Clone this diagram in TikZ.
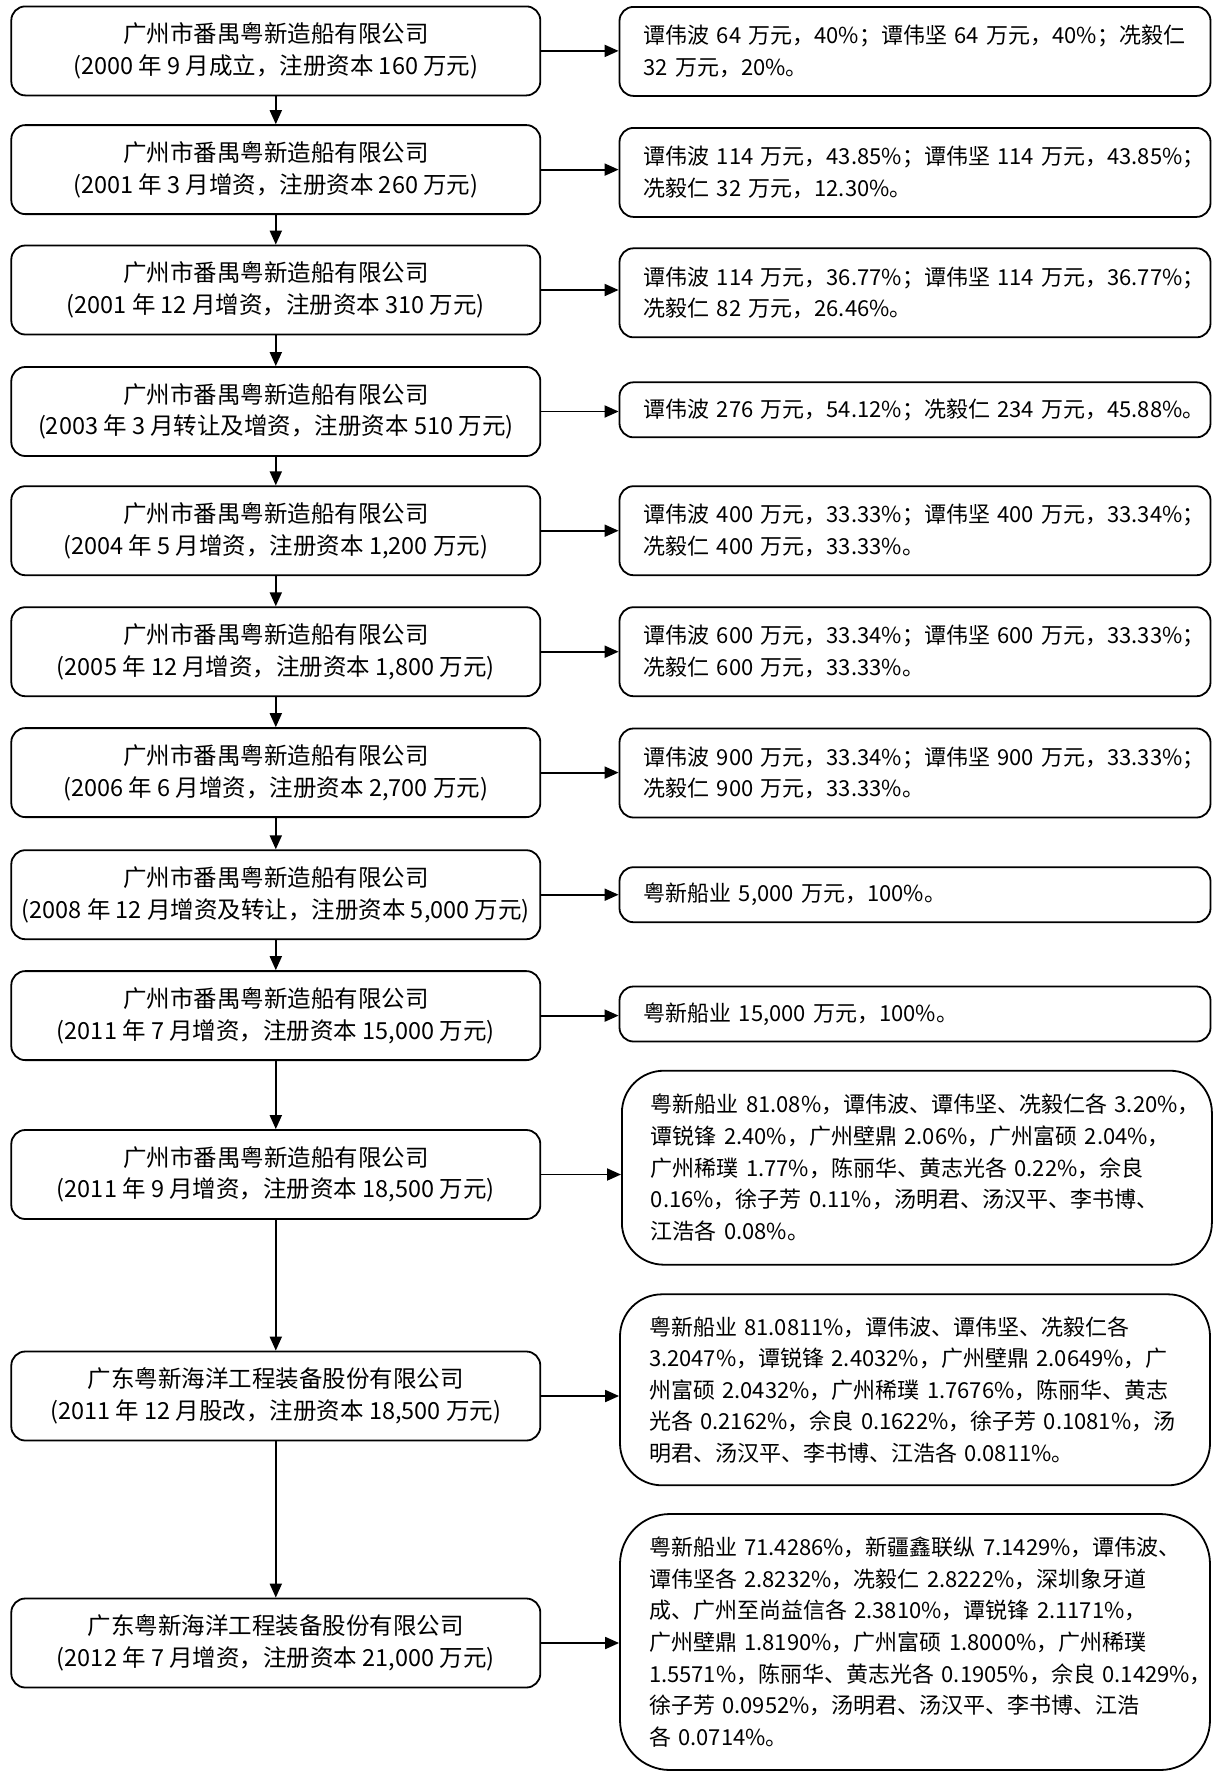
\documentclass[tikz,border=0pt]{standalone}
\usepackage{fontspec}
\setmainfont{Noto Sans CJK SC}
\usetikzlibrary{arrows.meta}
\newcommand{\Ln}[1]{\mbox{#1}}
\tikzset{
  txt/.style={font=\fontsize{22}{31.6}\selectfont},
  ltxt/.style={font=\fontsize{23.5}{31.6}\selectfont},
  lbox/.style={ltxt, draw, line width=1.8pt, rounded corners=14pt, minimum width=529pt, minimum height=89pt, inner sep=0pt, align=center},
  rbox/.style={txt, draw, line width=1.8pt, rounded corners=14pt, text width=543pt, inner xsep=24pt, inner ysep=0pt, minimum height=89pt, align=left},
  rbig/.style={rbox, rounded corners=42pt, text width=532pt, inner xsep=29pt},
  arr/.style={line width=1.9pt, -{Triangle[length=14pt,width=12pt]}}
}
\begin{document}
\begin{tikzpicture}[x=1pt,y=1pt]
\useasboundingbox (0,0) rectangle (1214,-1773);
% left chain
\node[lbox] (L1) at (275.8,-50.9) {广州市番禺粤新造船有限公司\\(2000 年 9 月成立，注册资本 160 万元)};
\node[lbox] (L2) at (275.8,-169.6) {广州市番禺粤新造船有限公司\\(2001 年 3 月增资，注册资本 260 万元)};
\node[lbox] (L3) at (275.8,-290) {广州市番禺粤新造船有限公司\\(2001 年 12 月增资，注册资本 310 万元)};
\node[lbox] (L4) at (275.8,-411.5) {广州市番禺粤新造船有限公司\\(2003 年 3 月转让及增资，注册资本 510 万元)};
\node[lbox] (L5) at (275.8,-530.7) {广州市番禺粤新造船有限公司\\(2004 年 5 月增资，注册资本 1,200 万元)};
\node[lbox] (L6) at (275.8,-651.7) {广州市番禺粤新造船有限公司\\(2005 年 12 月增资，注册资本 1,800 万元)};
\node[lbox] (L7) at (275.8,-772.6) {广州市番禺粤新造船有限公司\\(2006 年 6 月增资，注册资本 2,700 万元)};
\node[lbox] (L8) at (275.8,-894.7) {广州市番禺粤新造船有限公司\\(2008 年 12 月增资及转让，注册资本 5,000 万元)};
\node[lbox] (L9) at (275.8,-1015.6) {广州市番禺粤新造船有限公司\\(2011 年 7 月增资，注册资本 15,000 万元)};
\node[lbox] (L10) at (275.8,-1174.5) {广州市番禺粤新造船有限公司\\(2011 年 9 月增资，注册资本 18,500 万元)};
\node[lbox] (L11) at (275.8,-1396) {广东粤新海洋工程装备股份有限公司\\(2011 年 12 月股改，注册资本 18,500 万元)};
\node[lbox] (L12) at (275.8,-1643) {广东粤新海洋工程装备股份有限公司\\(2012 年 7 月增资，注册资本 21,000 万元)};
% right boxes
\node[rbox] (R1) at (915,-51.4) {\Ln{谭伟波 64 万元，40\%；谭伟坚 64 万元，40\%；冼毅仁}\\\Ln{32 万元，20\%。}};
\node[rbox] (R2) at (915,-172.4) {\Ln{谭伟波 114 万元，43.85\%；谭伟坚 114 万元，43.85\%；}\\\Ln{冼毅仁 32 万元，12.30\%。}};
\node[rbox] (R3) at (915,-292.8) {\Ln{谭伟波 114 万元，36.77\%；谭伟坚 114 万元，36.77\%；}\\\Ln{冼毅仁 82 万元，26.46\%。}};
\node[rbox, minimum height=55pt] (R4) at (915,-409.8) {\Ln{谭伟波 276 万元，54.12\%；冼毅仁 234 万元，45.88\%。}};
\node[rbox] (R5) at (915,-530.7) {\Ln{谭伟波 400 万元，33.33\%；谭伟坚 400 万元，33.34\%；}\\\Ln{冼毅仁 400 万元，33.33\%。}};
\node[rbox] (R6) at (915,-651.7) {\Ln{谭伟波 600 万元，33.34\%；谭伟坚 600 万元，33.33\%；}\\\Ln{冼毅仁 600 万元，33.33\%。}};
\node[rbox] (R7) at (915,-773) {\Ln{谭伟波 900 万元，33.34\%；谭伟坚 900 万元，33.33\%；}\\\Ln{冼毅仁 900 万元，33.33\%。}};
\node[rbox, minimum height=55pt] (R8) at (915,-894.7) {\Ln{粤新船业 5,000 万元，100\%。}};
\node[rbox, minimum height=55pt] (R9) at (915,-1014) {\Ln{粤新船业 15,000 万元，100\%。}};
\node[rbig, minimum height=194pt] (R10) at (916.9,-1167.7) {\Ln{粤新船业 81.08\%，谭伟波、谭伟坚、冼毅仁各 3.20\%，}\\\Ln{谭锐锋 2.40\%，广州壁鼎 2.06\%，广州富硕 2.04\%，}\\\Ln{广州稀璞 1.77\%，陈丽华、黄志光各 0.22\%，佘良}\\\Ln{0.16\%，徐子芳 0.11\%，汤明君、汤汉平、李书博、}\\\Ln{江浩各 0.08\%。}};
\node[rbig, minimum height=191pt] (R11) at (915,-1389.8) {\Ln{粤新船业 81.0811\%，谭伟波、谭伟坚、冼毅仁各}\\\Ln{3.2047\%，谭锐锋 2.4032\%，广州壁鼎 2.0649\%，广}\\\Ln{州富硕 2.0432\%，广州稀璞 1.7676\%，陈丽华、黄志}\\\Ln{光各 0.2162\%，佘良 0.1622\%，徐子芳 0.1081\%，汤}\\\Ln{明君、汤汉平、李书博、江浩各 0.0811\%。}};
\node[rbig, rounded corners=50pt, minimum height=256pt] (R12) at (915,-1642) {\Ln{粤新船业 71.4286\%，新疆鑫联纵 7.1429\%，谭伟波、}\\\Ln{谭伟坚各 2.8232\%，冼毅仁 2.8222\%，深圳象牙道}\\\Ln{成、广州至尚益信各 2.3810\%，谭锐锋 2.1171\%，}\\\Ln{广州壁鼎 1.8190\%，广州富硕 1.8000\%，广州稀璞}\\\Ln{1.5571\%，陈丽华、黄志光各 0.1905\%，佘良 0.1429\%，}\\\Ln{徐子芳 0.0952\%，汤明君、汤汉平、李书博、江浩}\\\Ln{各 0.0714\%。}};
% vertical arrows
\foreach \a/\b in {L1/L2,L2/L3,L3/L4,L4/L5,L5/L6,L6/L7,L7/L8,L8/L9,L9/L10,L10/L11,L11/L12}
  \draw[arr] (\a.south) -- (\b.north);
% horizontal arrows
\foreach \i in {1,...,12}
  \draw[arr] (L\i.east) -- (L\i.east -| R\i.west);
\end{tikzpicture}
\end{document}
